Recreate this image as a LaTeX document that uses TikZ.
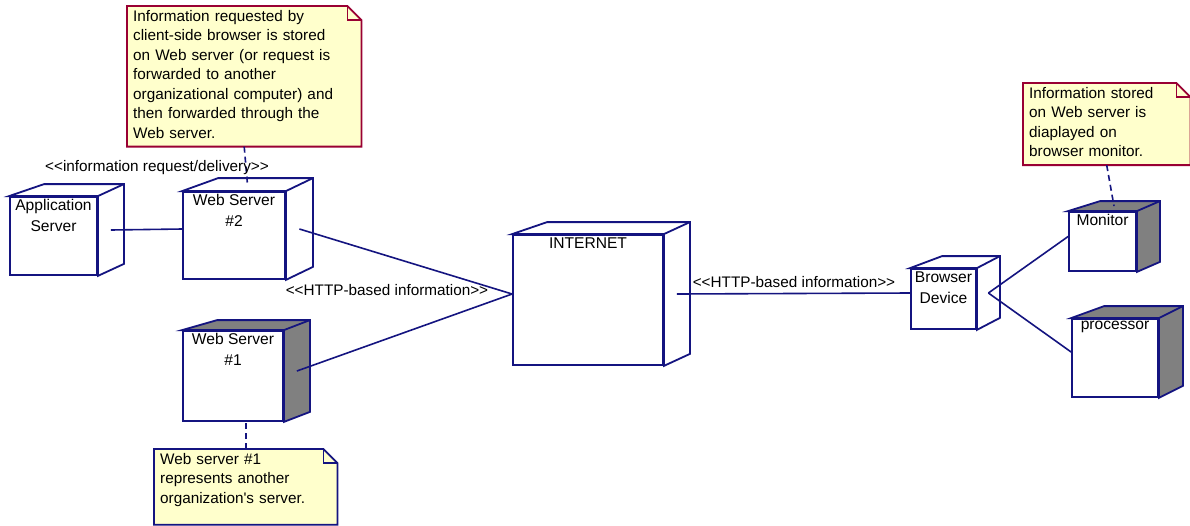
\documentclass[tikz,border=0pt]{standalone}
\usepackage{fontspec}
\setmainfont{Liberation Sans}[Ligatures=TeXOff]
\usetikzlibrary{calc,backgrounds}

\definecolor{nodeblue}{RGB}{20,20,128}
\definecolor{noteyellow}{RGB}{255,255,204}
\definecolor{notered}{RGB}{153,0,51}
\definecolor{sidegray}{RGB}{128,128,128}

% top and right faces of a node box, and the points the links attach to
\newcommand{\cubefaces}[4]{%
  \draw[cubeedge,fill=#4] (#1.north west) -- ++(#2+9,#3) -- ($(#1.north east)+(#2,#3)$)
    -- ($(#1.south east)+(#2,#3)$) -- (#1.south east) -- (#1.north east) -- cycle;
  \draw[cubeedge] (#1.north east) -- ++(#2,#3);
  \coordinate (#1-in) at ($(#1.west)+(0,#3/2)$);
  \coordinate (#1-out) at ($(#1.east)+(#2/2,#3/2)$);
  \coordinate (#1-top) at ($(#1.north)+(#2/2,#3/2)$);
}

% dog-eared sheet behind a note
\newcommand{\notesheet}[3]{%
  \coordinate (#1-foot) at ($(#1.south)+(0,#3)$);
  \begin{scope}[on background layer]
    \draw[noteedge,draw=#2] (#1.north west) -- ($(#1.north east)+(-14,0)$)
      -- ($(#1.north east)+(0,14)$) -- ($(#1.south east)+(0,#3)$)
      -- ($(#1.south west)+(0,#3)$) -- cycle;
    \draw[noteedge,draw=#2,fill=none] ($(#1.north east)+(-14,0)$) |- ($(#1.north east)+(0,14)$);
  \end{scope}
}

\begin{document}
\begin{tikzpicture}[x=1pt,y=-1pt,
    every node/.style={font=\fontsize{15.3}{19.5}\selectfont},
    cube/.style={draw=nodeblue,line width=1.8pt,fill=white,inner sep=0pt},
    cubeedge/.style={draw=nodeblue,line width=1.8pt,line join=miter},
    cubetext/.style={anchor=north,align=center,inner sep=3pt,
                     font=\fontsize{15.6}{21}\selectfont},
    note/.style={anchor=north west,align=left,inner xsep=6pt,inner ysep=4pt},
    noteedge/.style={line width=1.8pt,fill=noteyellow},
    link/.style={draw=nodeblue,line width=1.6pt},
    anchorline/.style={draw=nodeblue,line width=1.6pt,dash pattern=on 6pt off 4pt},
    tag/.style={inner sep=1pt}]
  \useasboundingbox (0,0) rectangle (1190,525);
  \begin{scope}[on background layer]
    \fill[white] (0,0) rectangle (1190,525);
  \end{scope}

  % servers
  \node[cube,minimum width=87pt,minimum height=78pt,
        label={[cubetext]north:Application\\Server}] (app) at (53.5,236) {};
  \cubefaces{app}{26}{-12}{white}
  \node[cube,minimum width=102pt,minimum height=87pt,
        label={[cubetext]north:Web Server\\\#2}] (ws2) at (234,235.5) {};
  \cubefaces{ws2}{27}{-13}{white}
  \node[cube,minimum width=100pt,minimum height=90pt,
        label={[cubetext]north:Web Server\\\#1}] (ws1) at (233,376) {};
  \cubefaces{ws1}{26}{-10}{sidegray}
  \node[cube,minimum width=150pt,minimum height=130pt,
        label={[cubetext]north:INTERNET}] (inet) at (588,300) {};
  \cubefaces{inet}{26}{-12}{white}

  % client side
  \node[cube,minimum width=65pt,minimum height=60pt,
        label={[cubetext]north:Browser\\Device}] (brw) at (943.5,299) {};
  \cubefaces{brw}{23}{-12}{white}
  \node[cube,minimum width=67pt,minimum height=59pt,
        label={[cubetext]north:Monitor}] (mon) at (1102.5,241.5) {};
  \cubefaces{mon}{23}{-10}{sidegray}
  \node[cube,minimum width=86pt,minimum height=78pt,
        label={[cubetext]north:processor}] (cpu) at (1115,358) {};
  \cubefaces{cpu}{24}{-12}{sidegray}

  % notes
  \node[note,text width=222pt] (srvnote) at (127,6) {Information requested by\\
    client-side browser is stored\\on Web server (or request is\\forwarded to another\\
    organizational computer) and\\then forwarded through the\\Web server.};
  \notesheet{srvnote}{notered}{4}
  \node[note,text width=171pt] (ws1note) at (154,449) {Web server \#1\\represents another\\
    organization's server.};
  \notesheet{ws1note}{nodeblue}{14}
  \node[note,text width=155pt] (monnote) at (1023,83) {Information stored\\on Web server is\\
    diaplayed on\\browser monitor.};
  \notesheet{monnote}{notered}{4}

  % links
  \draw[link] (app-out) -- (ws2-in);
  \draw[link] (ws2-out) -- (inet-in);
  \draw[link] (ws1-out) -- (inet-in);
  \draw[link] (inet-out) -- (brw-in);
  \draw[link] (brw-out) -- (mon-in);
  \draw[link] (brw-out) -- (cpu-in);
  \draw[anchorline] (srvnote-foot) -- (ws2-top);
  \draw[anchorline] (ws1note.north) -- (ws1note.north |- ws1.south);
  \draw[anchorline] (monnote-foot) -- (mon-top);

  \node[tag] (reqtag) at (157,168) {<<information request/delivery>>};
  \node[tag] (httptag) at (387,290) {<<HTTP-based information>>};
  \node[tag] (webtag) at (794,282) {<<HTTP-based information>>};
\end{tikzpicture}
\end{document}
